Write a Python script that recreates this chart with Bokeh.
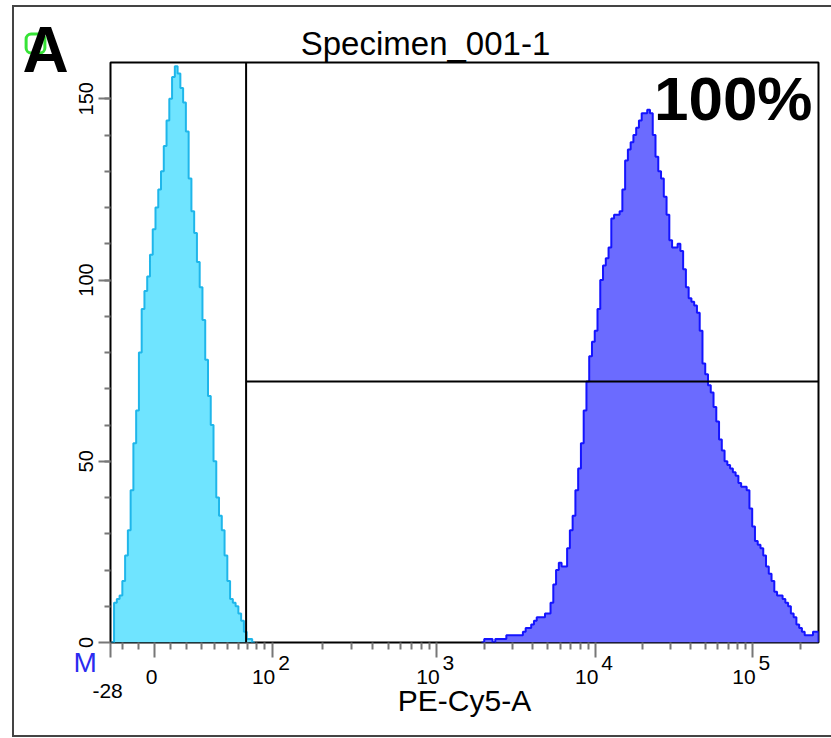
import math
import numpy as np
from bokeh.plotting import figure
from bokeh.models import Label, FixedTicker, Range1d
from bokeh.embed import file_html
from bokeh.resources import INLINE

# ---- Logicle (biexponential) display parameters ----
LOGICLE_T = 262144.0
LOGICLE_M = 4.5
LOGICLE_W = 0.275
AXIS_MIN = -28

# ---- Tick values and labels ----
NBSP = "\u00a0"
x_major_values = [-28, 0, 100, 1000, 10000, 100000]
x_base_labels = ["-28", "0", "10", "10", "10", "10"]
x_exponents = ["", "", "2", "3", "4", "5"]
x_minor_values = ([-20, -10] + list(range(10, 100, 10)) + list(range(200, 1000, 100))
                  + list(range(2000, 10000, 1000)) + list(range(20000, 100000, 10000)) + [200000])
x_axis_title = "PE-Cy5-A"
y_major_values = [0, 50, 100, 150]
y_minor_values = list(range(10, 160, 10))

# ---- Histogram channels (256 display channels) ----
n_channels = 256
unstained_first_channel = 0
unstained_counts = [0, 11, 12, 13, 17, 24, 31, 42, 55, 64, 80, 92, 97, 101, 107, 114, 120, 125,
                    130, 137, 144, 150, 156, 159, 157, 153, 149, 141, 128, 119, 113, 105, 98, 89,
                    78, 68, 60, 50, 40, 35, 31, 24, 17, 12, 11, 10, 8, 6, 3, 1, 1, 0]
stained_first_channel = 134
stained_counts = [0, 1, 1, 1, 0, 1, 1, 1, 1, 2,
                  2, 2, 2, 2, 2, 3, 4, 4, 5, 6,
                  7, 7, 7, 8, 8, 11, 16, 20, 22, 21,
                  21, 26, 31, 35, 42, 48, 55, 64, 72, 79,
                  83, 86, 92, 100, 104, 106, 109, 117, 118, 118,
                  119, 125, 133, 136, 138, 140, 142, 144, 146, 146,
                  147, 146, 140, 134, 130, 128, 123, 118, 111, 109,
                  109, 110, 108, 103, 98, 95, 94, 93, 91, 86,
                  77, 74, 71, 69, 65, 61, 56, 53, 50, 49,
                  48, 47, 46, 44, 43, 43, 42, 37, 32, 28,
                  27, 26, 24, 21, 19, 17, 14, 13, 13, 12,
                  11, 10, 8, 7, 5, 4, 3, 2, 2, 2,
                  3, 3]

# ---- Histogram marker (gate) ----
gate_low = 68
gate_high = 262144
gate_level = 72
gate_label = "100%"

plot_title = "Specimen_001-1"
panel_letter = "A"
marker_tag = "M"

LN10 = math.log(10)


def _logicle_p(w):
    lo, hi = 1.0000001, 100.0
    for _ in range(200):
        mid = 0.5 * (lo + hi)
        if 2 * mid * math.log(mid) / (mid + 1) < w:
            lo = mid
        else:
            hi = mid
    return 0.5 * (lo + hi)


def logicle_value(y):
    """Data value at display position y (0..1)."""
    m = LOGICLE_M * LN10
    w = LOGICLE_W * LN10
    p = _logicle_p(w)
    x = np.asarray(y, dtype=float) * m
    pos = x >= w
    xx = np.where(pos, x, 2 * w - x)
    s = LOGICLE_T * np.exp(-(m - w)) * (np.exp(xx - w) - p * p * np.exp(-(xx - w) / p) + p * p - 1)
    return np.where(pos, s, -s)


_grid = np.linspace(-0.1, 1.0, 40001)
_vals = logicle_value(_grid)


def disp(v):
    return float(np.interp(v, _vals, _grid))


# ---- Layout (page pixels) ----
W_PX, H_PX = 831, 738
FRAME_L, FRAME_R, FRAME_T, FRAME_B = 110, 818, 62, 642
x0, x1 = disp(AXIS_MIN), 1.0
y0, y1 = 0.0, 160.0


def x_at(px):
    return x0 + (px - FRAME_L) / (FRAME_R - FRAME_L) * (x1 - x0)


def y_at(py):
    return y0 + (FRAME_B - py) / (FRAME_B - FRAME_T) * (y1 - y0)


def tick_label(base, exponent):
    # three stacked lines: exponent / mantissa / low-placed negative label
    if exponent:
        return NBSP * 4 + exponent + "\n" + base + NBSP * 3
    if base.startswith("-"):
        return "\n\n" + base + NBSP
    return "\n" + base + NBSP


# panel border drawn as CSS background lines behind the transparent canvas
_line = "linear-gradient(#444444, #444444)"
panel_border_css = ", ".join([
    f"{_line} 12px 5px / 2px 732px no-repeat",
    f"{_line} 12px 5px / 830px 2px no-repeat",
    f"{_line} 12px 735px / 830px 2px no-repeat",
])

p = figure(width=W_PX, height=H_PX, x_range=Range1d(x0, x1), y_range=Range1d(y0, y1),
           output_backend="svg", toolbar_location=None, title=None,
           min_border_left=FRAME_L, min_border_right=W_PX - FRAME_R,
           min_border_top=FRAME_T, min_border_bottom=H_PX - FRAME_B,
           styles={"background": panel_border_css})
p.grid.visible = False
p.background_fill_color = None
p.border_fill_color = None
p.outline_line_color = "black"
p.outline_line_width = 2

FONT = "Liberation Sans"
BASELINE_SHIFT = 0.4  # em; lifts alphabetic-baseline labels onto their baseline


def text_label(px, py, text, size, align="left", **kw):
    return Label(x=x_at(px), y=y_at(py), text=text, text_align=align,
                 text_baseline="alphabetic", y_offset=BASELINE_SHIFT * size,
                 text_font=FONT, text_font_size=f"{size}px", **kw)


# x axis (logicle ticks)
x_ticks = [disp(v) for v in x_major_values]
p.xaxis.ticker = FixedTicker(ticks=x_ticks, minor_ticks=[disp(v) for v in x_minor_values])
p.xaxis.major_label_overrides = {t: tick_label(b, e)
                                 for t, b, e in zip(x_ticks, x_base_labels, x_exponents)}
p.xaxis.axis_line_color = None
p.xaxis.major_tick_in = 0
p.xaxis.major_tick_out = 15
p.xaxis.minor_tick_in = 0
p.xaxis.minor_tick_out = 7
p.xaxis.major_tick_line_color = "#777777"
p.xaxis.minor_tick_line_color = "#777777"
p.xaxis.major_tick_line_width = 2
p.xaxis.minor_tick_line_width = 2
p.xaxis.major_label_text_font = FONT
p.xaxis.major_label_text_font_size = "21px"
p.xaxis.major_label_text_line_height = 0.62
p.xaxis.major_label_text_color = "black"
p.xaxis.major_label_standoff = -7
p.xaxis.axis_label = x_axis_title
p.xaxis.axis_label_text_font = FONT
p.xaxis.axis_label_text_font_size = "30px"
p.xaxis.axis_label_text_font_style = "normal"
p.xaxis.axis_label_text_color = "black"
p.xaxis.axis_label_standoff = -21

# y axis
p.yaxis.ticker = FixedTicker(ticks=y_major_values, minor_ticks=y_minor_values)
p.yaxis.axis_line_color = None
p.yaxis.major_tick_in = 0
p.yaxis.major_tick_out = 12
p.yaxis.minor_tick_in = 0
p.yaxis.minor_tick_out = 6
p.yaxis.major_tick_line_color = "#777777"
p.yaxis.minor_tick_line_color = "#777777"
p.yaxis.major_tick_line_width = 2
p.yaxis.minor_tick_line_width = 2
p.yaxis.major_label_orientation = "vertical"
p.yaxis.major_label_text_font = FONT
p.yaxis.major_label_text_font_size = "20px"
p.yaxis.major_label_text_color = "black"
p.yaxis.major_label_standoff = 6


def step_outline(first_channel, counts):
    edges = (first_channel + np.arange(len(counts) + 1)) / n_channels
    xs = np.repeat(edges, 2)
    ys = np.concatenate([[0], np.repeat(np.asarray(counts, dtype=float), 2), [0]])
    return xs, ys


ux, uy = step_outline(unstained_first_channel, unstained_counts)
p.patch(ux, uy, fill_color="#6fe4ff", line_color=None)
p.line(ux, uy, line_color="#1fb6ea", line_width=2)

sx, sy = step_outline(stained_first_channel, stained_counts)
p.patch(sx, sy, fill_color="#6b6bff", line_color=None)
p.line(sx, sy, line_color="#1414ff", line_width=2)

# marker: vertical boundary plus level line
g0, g1 = disp(gate_low), disp(gate_high)
p.segment(x0=[g0], y0=[y0], x1=[g0], y1=[y1], line_color="black", line_width=2)
p.segment(x0=[g0], y0=[gate_level], x1=[g1], y1=[gate_level], line_color="black", line_width=2)

p.add_layout(text_label(812, 123, gate_label, 62, align="right",
                        text_font_style="bold", text_color="black"))

# texts outside the frame live in the side panels
p.add_layout(text_label(425, 56, plot_title, 33, align="center", text_color="black"), "above")
p.add_layout(Label(x=x_at(35), y=y_at(43), text=" ", text_align="center",
                   text_baseline="middle", text_font=FONT, text_font_size="10px",
                   padding=(8, 4), border_radius=5, border_line_color="#36e336",
                   border_line_width=3, background_fill_color=None), "above")
p.add_layout(text_label(22, 75, panel_letter, 64, text_font_style="bold",
                        text_color="black"), "left")
p.add_layout(text_label(73, 673, marker_tag, 28, text_color="#2b2bf0"), "left")

open("out.html", "w").write(file_html(p, INLINE))
